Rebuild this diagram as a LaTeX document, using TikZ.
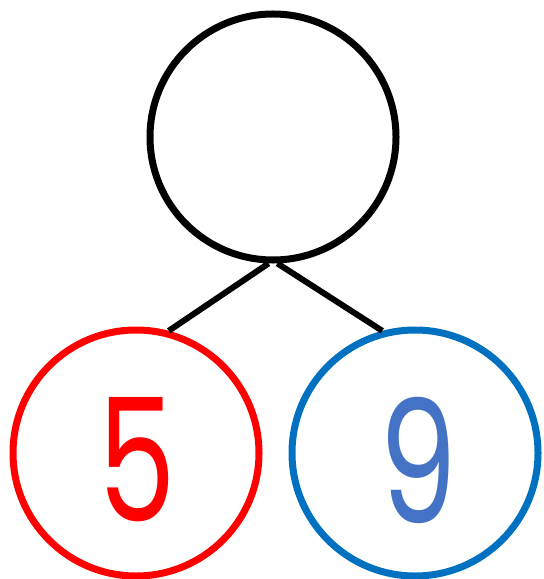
\documentclass[tikz,border=0pt]{standalone}
\usepackage{fontspec}
\setmainfont{Poppins}
\usetikzlibrary{positioning}
\definecolor{partRed}{RGB}{255, 0, 0}
\definecolor{partBlue}{RGB}{0, 112, 192}
\definecolor{digitBlue}{RGB}{68, 114, 196}
\newcommand{\slimdigit}[1]{\scalebox{0.72}[1]{#1}}

\begin{document}
\begin{tikzpicture}[
  x=1bp, y=-1bp,
  bond/.style={circle, draw, line width=7bp, minimum size=246bp, inner sep=0pt},
  digit/.style={font=\fontsize{172}{172}\selectfont},
  link/.style={line width=6bp}
]
  \useasboundingbox (0,0) rectangle (544,579);
  % --- Whole and parts ---
  \node[bond] (whole) at (273,137) {};
  \node[bond, draw=partRed] (partA) at (136,453) {};
  \node[bond, draw=partBlue] (partB) at (415,453) {};
  \node[digit, text=partRed] (numA) at (137,460) {\slimdigit{5}};
  \node[digit, text=digitBlue] (numB) at (418,460) {\slimdigit{9}};
  % Connectors
  \draw[link] (partA.75) -- (whole.-92);
  \draw[link] (partB.105) -- (whole.-88);
\end{tikzpicture}
\end{document}
